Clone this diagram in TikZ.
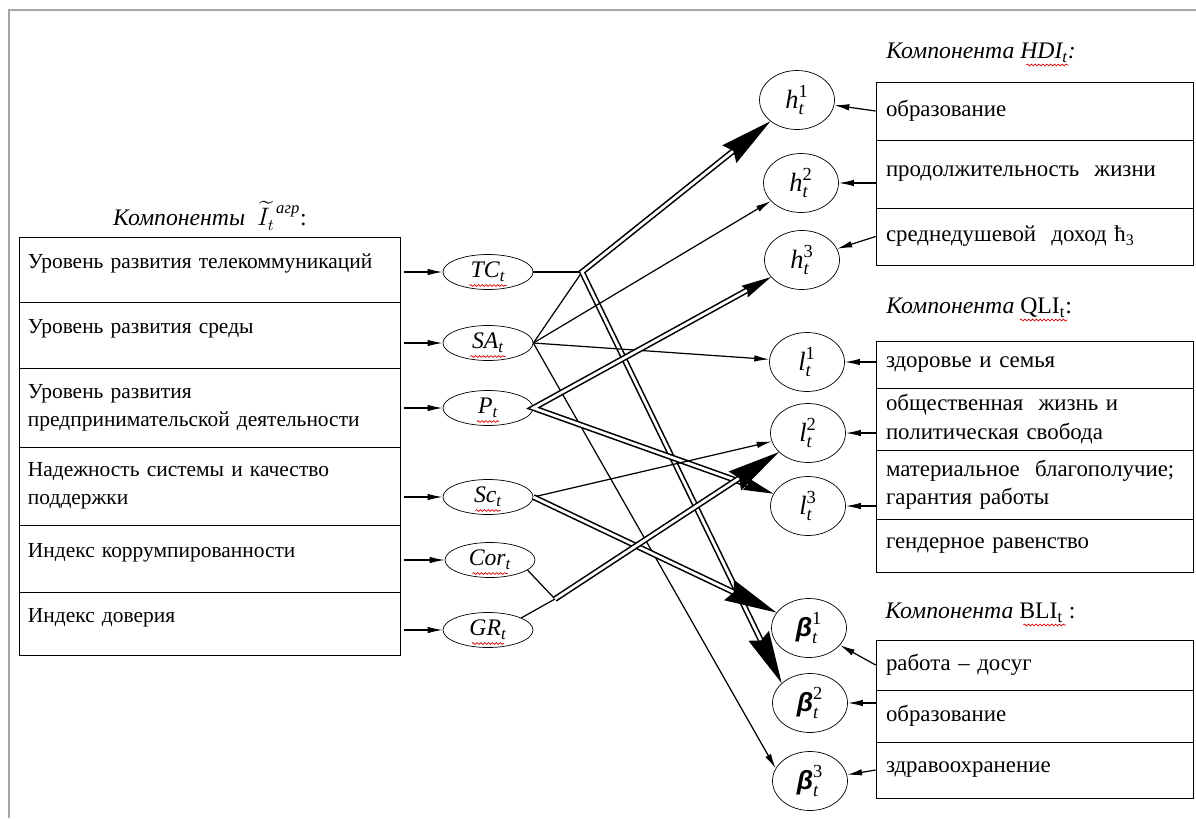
\documentclass[tikz,border=0pt]{standalone}
\usepackage{amsmath}
\usepackage{fontspec}
\setmainfont{Liberation Serif}
\newfontfamily\betafont{Liberation Sans}
\usepackage{tikz}
\usetikzlibrary{arrows.meta, shapes.geometric, decorations.pathmorphing}

\begin{document}
\begin{tikzpicture}[
        rowbox/.style={draw, minimum width=7.62cm, text width=7.26cm, inner xsep=0.18cm, align=left, font=\fontsize{12.2}{16}\selectfont},
        oneline/.style={text depth=0.34cm},
        itembox/.style={draw, minimum width=6.34cm, text width=5.94cm, inner xsep=0.2cm, align=left, font=\fontsize{13}{16}\selectfont},
        factor/.style={draw, ellipse, minimum width=1.8cm, minimum height=0.7cm, inner sep=0pt, font=\fontsize{13.5}{14}\selectfont\itshape},
        goal/.style={draw, ellipse, minimum width=1.5cm, minimum height=1.18cm, inner sep=0pt, font=\fontsize{15}{17}\selectfont},
        heading/.style={anchor=west, inner sep=0pt, font=\fontsize{13.5}{16}\selectfont},
        thinline/.style={line width=0.7pt},
        flow/.style={thinline, -{Latex[length=3mm, width=1.3mm]}},
        dbl/.style={double, line width=0.9pt, double distance=1.6pt},
        bigflow/.style={dbl, -{Stealth[length=10.5mm, width=4.5mm, inset=1mm]}},
        bigboth/.style={dbl, {Stealth[length=10.5mm, width=4.5mm, inset=1mm]}-{Stealth[length=10.5mm, width=4.5mm, inset=1mm]}},
        medboth/.style={dbl, {Stealth[length=6mm, width=2.6mm, inset=0.6mm]}-{Stealth[length=6mm, width=2.6mm, inset=0.6mm]}},
        spell/.style={red!85!black, line width=0.4pt, decorate, decoration={snake, amplitude=0.5pt, segment length=2.2pt}}
    ]
        \useasboundingbox (0,0) rectangle (23.92,-16.36);
        \draw[gray!70, line width=1pt] (0.18,-16.36) -- (0.18,-0.2) -- (23.92,-0.2);

        \node[heading, anchor=center] (title) at (4.2,-4.32) {\textit{Компоненты}\enspace ${\widetilde{I}}_t^{\mkern7mu\textit{агр}}$:};
        \node[rowbox, oneline, minimum height=1.30cm] (lvl1) at (4.19,-5.39) {Уровень развития телекоммуникаций};
        \node[rowbox, oneline, minimum height=1.32cm] (lvl2) at (4.19,-6.70) {Уровень развития среды};
        \node[rowbox, minimum height=1.58cm] (lvl3) at (4.19,-8.15) {Уровень развития\\предпринимательской деятельности};
        \node[rowbox, minimum height=1.56cm] (lvl4) at (4.19,-9.72) {Надежность системы и качество\\поддержки};
        \node[rowbox, oneline, minimum height=1.34cm] (lvl5) at (4.19,-11.17) {Индекс коррумпированности};
        \node[rowbox, oneline, minimum height=1.26cm] (lvl6) at (4.19,-12.47) {Индекс доверия};

        \node[factor] (tc) at (9.76,-5.44) {TC\textsubscript{t}};
        \node[factor] (sa) at (9.76,-6.86) {SA\textsubscript{t}};
        \node[factor] (pe) at (9.76,-8.16) {P\textsubscript{t}};
        \node[factor] (sc) at (9.76,-9.94) {Sc\textsubscript{t}};
        \node[factor] (cor) at (9.8,-11.2) {Cor\textsubscript{t}};
        \node[factor] (gr) at (9.76,-12.6) {GR\textsubscript{t}};
        \coordinate (j1) at (11.64,-5.44);
        \coordinate (j2) at (11.1,-11.98);

        \node[goal] (h1) at (15.94,-2.0) {$\textit{h}^{\textrm{1}}_{\textit{t}}$};
        \node[goal] (h2) at (16.02,-3.66) {$\textit{h}^{\textrm{2}}_{\textit{t}}$};
        \node[goal] (h3) at (16.04,-5.2) {$\textit{h}^{\textrm{3}}_{\textit{t}}$};
        \node[goal] (l1) at (16.14,-7.24) {$\textit{l}^{\textrm{1}}_{\textit{t}}$};
        \node[goal] (l2) at (16.16,-8.66) {$\textit{l}^{\textrm{2}}_{\textit{t}}$};
        \node[goal] (l3) at (16.16,-10.12) {$\textit{l}^{\textrm{3}}_{\textit{t}}$};
        \node[goal] (b1) at (16.18,-12.56) {$\text{\betafont\bfseries\itshape β}^{\textrm{1}}_{\textit{t}}$};
        \node[goal] (b2) at (16.2,-14.06) {$\text{\betafont\bfseries\itshape β}^{\textrm{2}}_{\textit{t}}$};
        \node[goal] (b3) at (16.2,-15.62) {$\text{\betafont\bfseries\itshape β}^{\textrm{3}}_{\textit{t}}$};

        \node[heading] (hdihead) at (17.72,-1.06) {\textit{Компонента HDI\textsubscript{t}:}};
        \node[itembox, minimum height=1.16cm] (hrow1) at (20.69,-2.22) {образование};
        \node[itembox, minimum height=1.36cm] (hrow2) at (20.69,-3.48) {продолжительность\ \ жизни};
        \node[itembox, minimum height=1.14cm] (hrow3) at (20.69,-4.73) {среднедушевой\ \ доход ħ\textsubscript{3}};

        \node[heading] (qlihead) at (17.72,-6.16) {\textit{Компонента} QLI\textsubscript{t}:};
        \node[itembox, minimum height=0.94cm] (qrow1) at (20.69,-7.29) {здоровье и семья};
        \node[itembox, minimum height=1.24cm] (qrow2) at (20.69,-8.38) {общественная\ \ жизнь и\\политическая свобода};
        \node[itembox, minimum height=1.38cm] (qrow3) at (20.69,-9.69) {материальное\ \ благополучие;\\гарантия работы};
        \node[itembox, minimum height=1.06cm] (qrow4) at (20.69,-10.91) {гендерное равенство};

        \node[heading] (blihead) at (17.7,-12.26) {\textit{Компонента} BLI\textsubscript{t} :};
        \node[itembox, minimum height=1.0cm] (brow1) at (20.69,-13.3) {работа -- досуг};
        \node[itembox, minimum height=1.04cm] (brow2) at (20.69,-14.32) {образование};
        \node[itembox, minimum height=1.12cm] (brow3) at (20.69,-15.4) {здравоохранение};

        \draw[flow, shorten <=2pt] (lvl1.east |- tc) -- (tc);
        \draw[flow, shorten <=2pt] (lvl2.east |- sa) -- (sa);
        \draw[flow, shorten <=2pt] (lvl3.east |- pe) -- (pe);
        \draw[flow, shorten <=2pt] (lvl4.east |- sc) -- (sc);
        \draw[flow, shorten <=2pt] (lvl5.east |- cor) -- (cor);
        \draw[flow, shorten <=2pt] (lvl6.east |- gr) -- (gr);

        \draw[thinline] (tc.east) -- (j1);
        \draw[thinline] (sa.east) -- (j1);
        \draw[bigboth] (h1) -- (j1) -- (b2.145);
        \draw[flow] (sa.east) -- (h2);
        \draw[flow] (sa.east) -- (l1);
        \draw[flow] (sa.east) -- (b3.160);
        \draw[medboth] (h3) -- (pe.east) -- (l3);
        \draw[flow] (sc.east) -- (l2);
        \draw[bigflow] (sc.east) -- (b1);
        \draw[thinline] (cor.-15) -- (j2);
        \draw[thinline] (gr.20) -- (j2);
        \draw[bigflow] (j2) -- (l2);

        \draw[flow] (hrow1.west) -- (h1);
        \draw[flow] (hrow2.west |- h2) -- (h2);
        \draw[flow] (hrow3.west) -- (h3);
        \draw[flow] (qrow1.west |- l1) -- (l1);
        \draw[flow] (qrow2.west |- l2) -- (l2);
        \draw[flow] (qrow3.west |- l3) -- (l3);
        \draw[flow] (brow1.west) -- (b1);
        \draw[flow] (brow2.west |- b2) -- (b2);
        \draw[flow] (brow3.west) -- (b3);

        \draw[spell] ([shift={(-0.37,-0.27)}]tc.center) -- ++(0.74,0);
        \draw[spell] ([shift={(-0.35,-0.27)}]sa.center) -- ++(0.7,0);
        \draw[spell] ([shift={(-0.22,-0.27)}]pe.center) -- ++(0.44,0);
        \draw[spell] ([shift={(-0.25,-0.27)}]sc.center) -- ++(0.5,0);
        \draw[spell] ([shift={(-0.35,-0.27)}]cor.center) -- ++(0.7,0);
        \draw[spell] ([shift={(-0.32,-0.27)}]gr.center) -- ++(0.64,0);
        \draw[spell] ([shift={(-1.0,-0.24)}]hdihead.east) -- ++(0.85,0);
        \draw[spell] ([shift={(-1.05,-0.24)}]qlihead.east) -- ++(0.95,0);
        \draw[spell] ([shift={(-1.05,-0.24)}]blihead.east) -- ++(0.85,0);
    \end{tikzpicture}
\end{document}
